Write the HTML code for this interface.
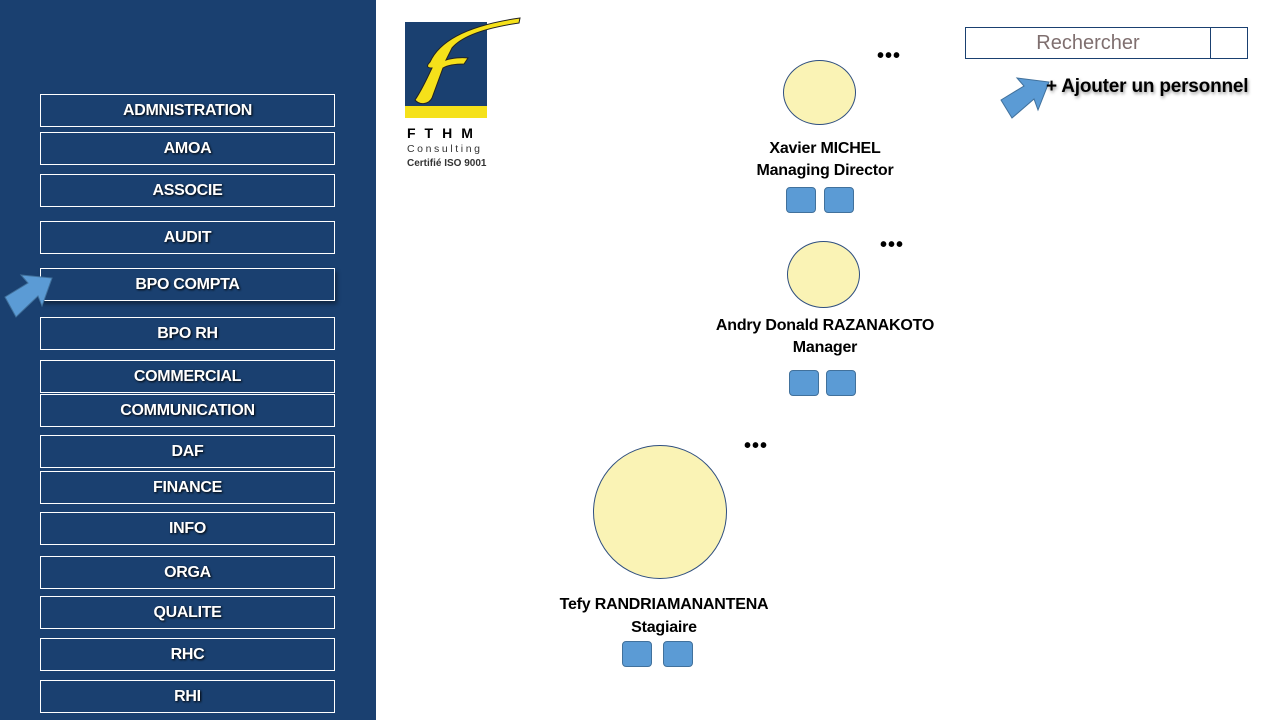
<!DOCTYPE html>
<html><head><meta charset="utf-8"><style>
body{margin:0;width:1280px;height:720px;position:relative;background:#fff;font-family:"Liberation Sans",sans-serif;overflow:hidden}
#side{position:absolute;left:0;top:0;width:376px;height:720px;background:#1a4070}
.b{position:absolute;left:40px;width:295px;height:33px;border:1px solid #fff;box-sizing:border-box;color:#fff;font-weight:bold;font-size:16px;text-align:center;line-height:31px;letter-spacing:-0.3px;text-shadow:1px 1px 2px #000}
.t{position:absolute;font-weight:bold;font-size:16px;text-align:center;color:#000;letter-spacing:-0.2px;line-height:22px}
.c{position:absolute;background:#faf3b5;border:1px solid #2f4f7f;border-radius:50%;box-sizing:border-box}
.s{position:absolute;width:30px;height:26px;background:#5b9bd5;border:1px solid #41719c;border-radius:4px;box-sizing:border-box}
.d{position:absolute;font-weight:bold;font-size:20px;letter-spacing:1px}
</style></head><body>
<div id="side"></div>
<div class="b" style="top:94px">ADMNISTRATION</div>
<div class="b" style="top:132px">AMOA</div>
<div class="b" style="top:174px">ASSOCIE</div>
<div class="b" style="top:221px">AUDIT</div>
<div class="b" style="top:268px;box-shadow:2px 3px 4px rgba(0,0,0,.4)">BPO COMPTA</div>
<div class="b" style="top:317px">BPO RH</div>
<div class="b" style="top:360px">COMMERCIAL</div>
<div class="b" style="top:394px">COMMUNICATION</div>
<div class="b" style="top:435px">DAF</div>
<div class="b" style="top:471px">FINANCE</div>
<div class="b" style="top:512px">INFO</div>
<div class="b" style="top:556px">ORGA</div>
<div class="b" style="top:596px">QUALITE</div>
<div class="b" style="top:638px">RHC</div>
<div class="b" style="top:680px">RHI</div>
<svg style="position:absolute;left:0;top:0" width="1280" height="720">
<polygon points="5,297 28,283 21,275 52,278 42,306 38,296 16,317" fill="#5b9bd5" stroke="#41719c" stroke-width="1"/>
<polygon points="1001,100 1024,86 1017,78 1049,82 1038,110 1034,99 1012,118" fill="#5b9bd5" stroke="#41719c" stroke-width="1"/>
<rect x="405" y="22" width="82" height="96" fill="#1a4070"/>
<rect x="405" y="106" width="82" height="12" fill="#f5e11a"/>
<path d="M430,62 C440,40 470,25 520,18 L519,23 C485,28 462,36 452,48 L446,60 C452,58 462,57 468,58 L464,64 C455,64 448,65 443,68 L432,98 C429,104 420,106 415,100 C423,88 428,76 432,68 C427,68 426,66 430,62 Z" fill="#f5e11a" stroke="#222" stroke-width="1"/>
<text x="407" y="138" font-family="Liberation Sans" font-weight="bold" font-size="14" letter-spacing="9">FTHM</text>
<text x="407" y="152" font-family="Liberation Sans" font-size="10.5" letter-spacing="2.6" fill="#333">Consulting</text>
<text x="407" y="166" font-family="Liberation Sans" font-weight="bold" font-size="10" fill="#333">Certifié ISO 9001</text>
</svg>
<div style="position:absolute;left:965px;top:27px;width:283px;height:32px;border:1px solid #1a4070;box-sizing:border-box"></div>
<div style="position:absolute;left:1210px;top:27px;width:1px;height:32px;background:#1a4070"></div>
<div style="position:absolute;left:966px;top:27px;width:244px;text-align:center;line-height:32px;font-size:20px;color:#7f6f6f">Rechercher</div>
<div class="t" style="left:1046px;top:76px;font-size:19px;text-shadow:1px 2px 3px rgba(0,0,0,.4)">+ Ajouter un personnel</div>
<div class="d" style="left:877px;top:45px">•••</div>
<div class="c" style="left:783px;top:60px;width:73px;height:65px"></div>
<div class="t" style="left:720px;top:138px;width:210px">Xavier MICHEL<br>Managing Director</div>
<div class="s" style="left:786px;top:187px"></div><div class="s" style="left:824px;top:187px"></div>
<div class="d" style="left:880px;top:234px">•••</div>
<div class="c" style="left:787px;top:241px;width:73px;height:67px"></div>
<div class="t" style="left:700px;top:315px;width:250px">Andry Donald RAZANAKOTO<br>Manager</div>
<div class="s" style="left:789px;top:370px"></div><div class="s" style="left:826px;top:370px"></div>
<div class="d" style="left:744px;top:435px">•••</div>
<div class="c" style="left:593px;top:445px;width:134px;height:134px"></div>
<div class="t" style="left:525px;top:593px;width:278px;line-height:23px">Tefy RANDRIAMANANTENA<br>Stagiaire</div>
<div class="s" style="left:622px;top:641px"></div><div class="s" style="left:663px;top:641px"></div>
</body></html>
